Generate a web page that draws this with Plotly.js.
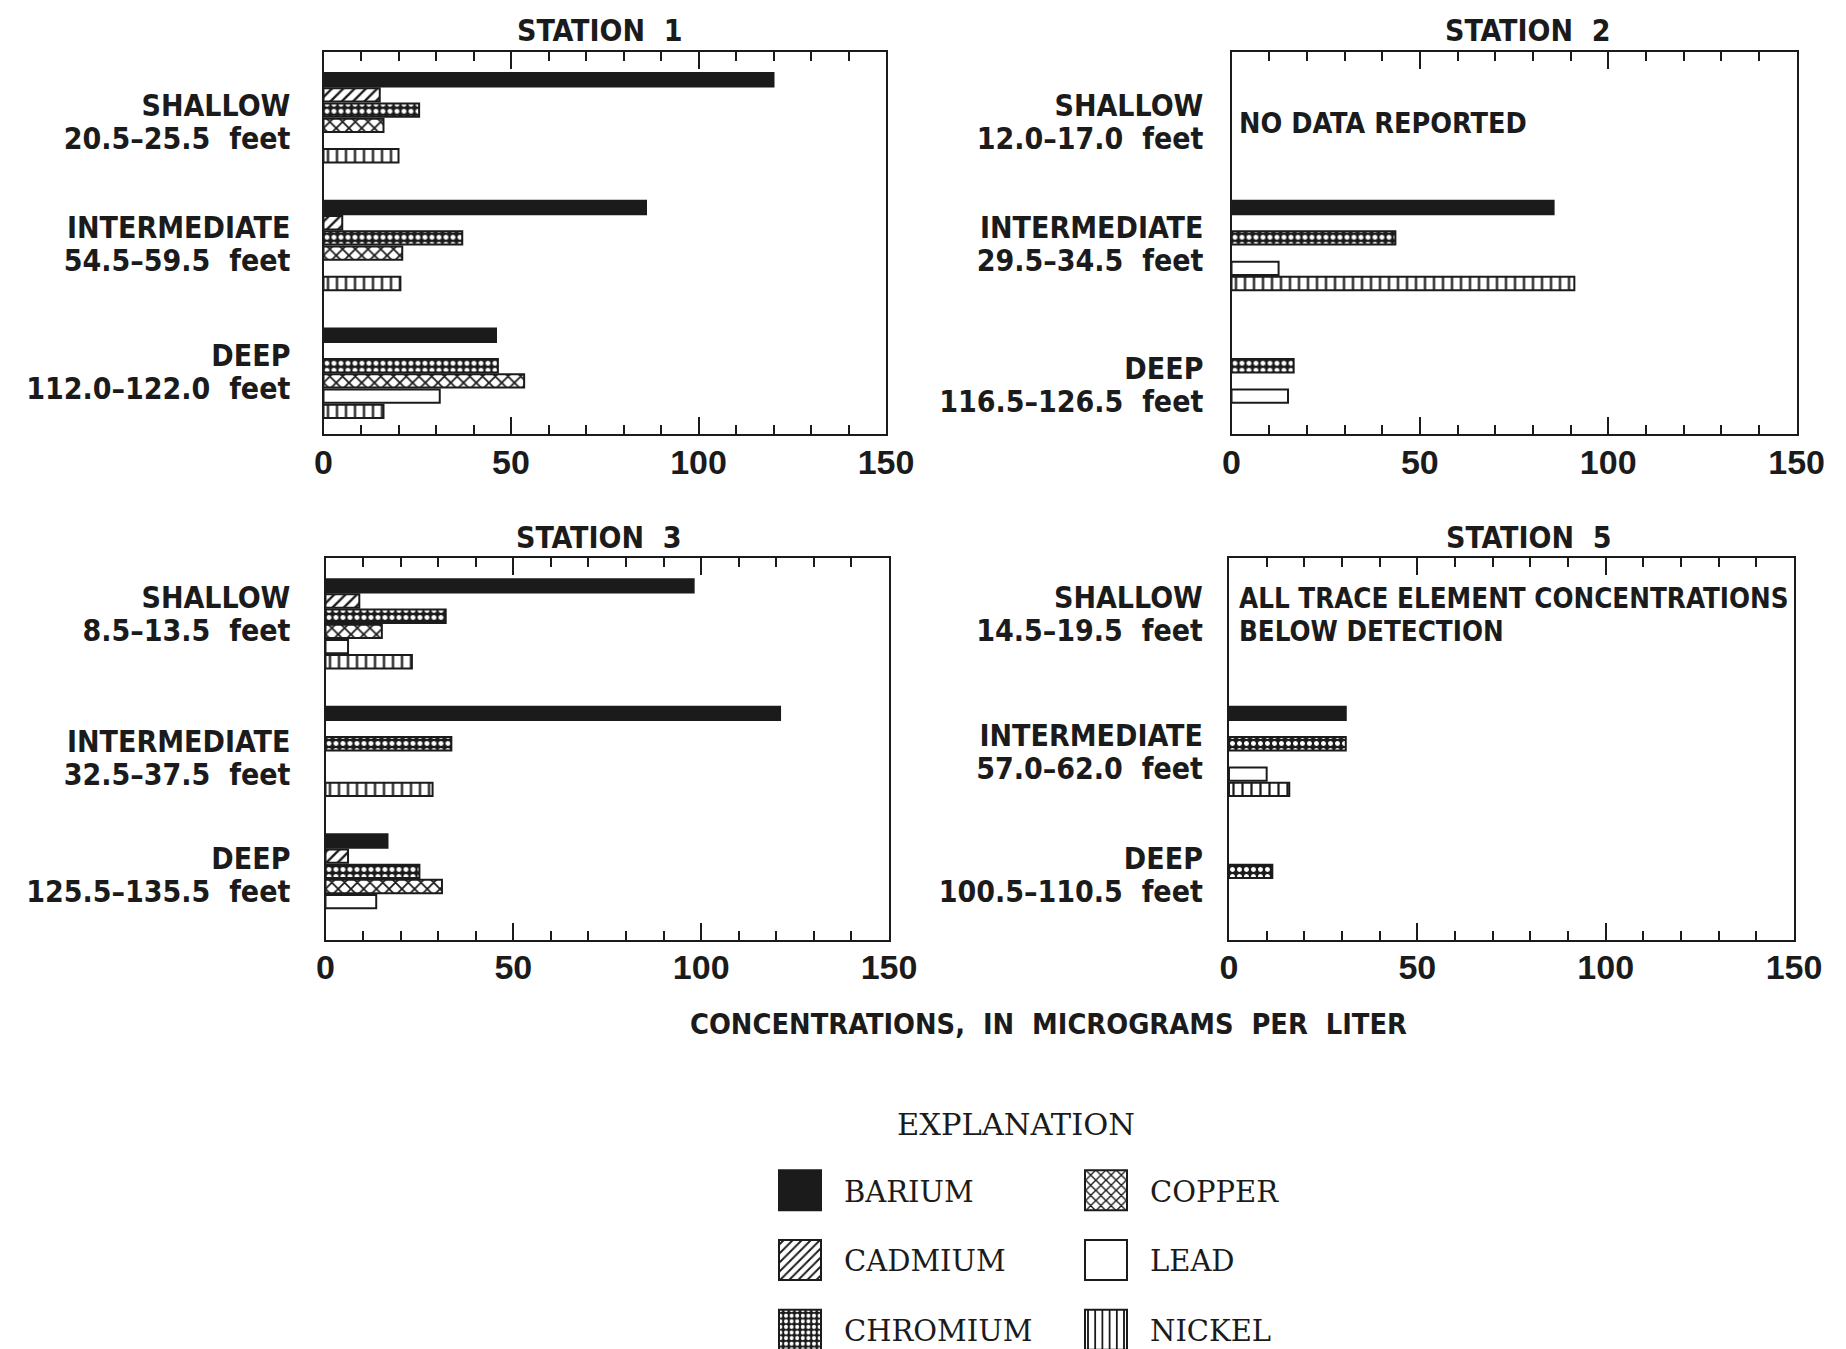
<!DOCTYPE html>
<html>
<head>
<meta charset="utf-8">
<script src="https://cdn.plot.ly/plotly-3.0.1.min.js"></script>
<style>
  html, body { margin: 0; padding: 0; background: #ffffff; }
  #chart { width: 1846px; height: 1349px; }
</style>
</head>
<body>
<div id="chart"></div>
<script>
// ---------------- DATA ----------------
const elements = ['BARIUM', 'CADMIUM', 'CHROMIUM', 'COPPER', 'LEAD', 'NICKEL'];
const depths = ['SHALLOW', 'INTERMEDIATE', 'DEEP'];
const stationNames = ['STATION 1', 'STATION 2', 'STATION 3', 'STATION 5'];

const ranges1 = ['20.5–25.5 feet', '54.5–59.5 feet', '112.0–122.0 feet'];
const ranges2 = ['12.0–17.0 feet', '29.5–34.5 feet', '116.5–126.5 feet'];
const ranges3 = ['8.5–13.5 feet', '32.5–37.5 feet', '125.5–135.5 feet'];
const ranges5 = ['14.5–19.5 feet', '57.0–62.0 feet', '100.5–110.5 feet'];

// values per element (rows, in order of `elements`) for [shallow, intermediate, deep]
const station1Values = [
  [120, 86, 46],      // barium
  [15, 5, null],      // cadmium
  [25.5, 37, 46.5],   // chromium
  [16, 21, 53.5],     // copper
  [null, null, 31],   // lead
  [20, 20.5, 16]      // nickel
];
const station2Values = [
  [null, 85.5, null],
  [null, null, null],
  [null, 43.5, 16.5],
  [null, null, null],
  [null, 12.5, 15],
  [null, 91, null]
];
const station3Values = [
  [98, 121, 16.5],
  [9, null, 6],
  [32, 33.5, 25],
  [15, null, 31],
  [6, null, 13.5],
  [23, 28.5, null]
];
const station5Values = [
  [null, 31, null],
  [null, null, null],
  [null, 31, 11.5],
  [null, null, null],
  [null, 10, null],
  [null, 16, null]
];

const noteStation2 = 'NO DATA REPORTED';
const noteStation5 = ['ALL TRACE ELEMENT CONCENTRATIONS', 'BELOW DETECTION'];
const xTitle = 'CONCENTRATIONS, IN MICROGRAMS PER LITER';
const legendTitle = 'EXPLANATION';
const xTickVals = [0, 50, 100, 150];

// ---------------- STYLE ----------------
const INK = '#1b1b1b';
const SANS = "'Liberation Sans Narrow', 'DejaVu Sans Condensed', 'Liberation Sans', sans-serif";
const NUMF = "'Liberation Sans', 'DejaVu Sans', sans-serif";
const SERIF = "'DejaVu Serif', 'Liberation Serif', serif";
const W = 1846, H = 1349;
const sp = s => s.replace(/ /g, '\u00a0 ');

const markerStyles = [
  { color: INK, line: { color: INK, width: 2 } },
  { color: 'white', line: { color: INK, width: 2 }, pattern: { shape: '/', fgcolor: INK, bgcolor: 'white', size: 8, solidity: 0.3 } },
  { color: 'white', line: { color: INK, width: 2 }, pattern: { shape: '.', fgcolor: 'white', bgcolor: INK, size: 7, solidity: 0.4 } },
  { color: 'white', line: { color: INK, width: 2 }, pattern: { shape: 'x', fgcolor: INK, bgcolor: 'white', size: 9, solidity: 0.35 } },
  { color: 'white', line: { color: INK, width: 2 } },
  { color: 'white', line: { color: INK, width: 2 }, pattern: { shape: '|', fgcolor: INK, bgcolor: 'white', size: 9, solidity: 0.25 } }
];

// label nudges (category units) to place the depth labels like the original drawing
const panels = [
  { values: station1Values, ranges: ranges1, xa: 'x',  ya: 'y',  xpx: [323.5, 886],    ypx: [51.8, 434],  standoff: 26, titleX: 600,  titleY: 31,  labelNudge: [0.046, 0, 0] },
  { values: station2Values, ranges: ranges2, xa: 'x2', ya: 'y2', xpx: [1231.5, 1796.6], ypx: [51.8, 434],  standoff: 21, titleX: 1528, titleY: 31,  labelNudge: [0.046, 0, 0.106] },
  { values: station3Values, ranges: ranges3, xa: 'x3', ya: 'y3', xpx: [325.5, 889],    ypx: [558, 939.5], standoff: 28, titleX: 599,  titleY: 537, labelNudge: [-0.065, 0.065, -0.018] },
  { values: station5Values, ranges: ranges5, xa: 'x4', ya: 'y4', xpx: [1229, 1794],    ypx: [558, 939.5], standoff: 19, titleX: 1529, titleY: 537, labelNudge: [-0.065, 0.018, -0.018] }
];

const data = [];
panels.forEach((p, pi) => {
  elements.forEach((el, ei) => {
    data.push({
      type: 'bar',
      orientation: 'h',
      name: el,
      y: depths,
      x: p.values[ei],
      xaxis: p.xa,
      yaxis: p.ya,
      marker: markerStyles[ei],
      legendgroup: el,
      legend: ei < 3 ? 'legend' : 'legend2',
      showlegend: pi === 0,
      hoverinfo: 'skip'
    });
  });
});

const legendCommon = {
  y: 1 - 1165 / H, xanchor: 'left', yanchor: 'top',
  orientation: 'v', traceorder: 'grouped', tracegroupgap: 29, itemwidth: 78,
  font: { family: SERIF, size: 29, color: INK }, bgcolor: 'rgba(0,0,0,0)', borderwidth: 0
};

const layout = {
  width: W, height: H,
  margin: { l: 0, r: 0, t: 0, b: 0, autoexpand: false },
  paper_bgcolor: 'white', plot_bgcolor: 'white',
  barmode: 'group', bargap: 0.286, bargroupgap: 0.12,
  font: { family: SANS, color: INK },
  annotations: [],
  legend: Object.assign({ x: 756 / W }, legendCommon),
  legend2: Object.assign({ x: 1062 / W }, legendCommon)
};

panels.forEach((p, i) => {
  const n = i === 0 ? '' : String(i + 1);
  layout['xaxis' + n] = {
    domain: [p.xpx[0] / W, p.xpx[1] / W], anchor: p.ya,
    range: [0, 150], tickmode: 'array', tickvals: xTickVals,
    ticks: 'inside', ticklen: 17, tickwidth: 2, tickcolor: INK,
    showline: true, mirror: 'ticks', linecolor: INK, linewidth: 2,
    showgrid: false, zeroline: false, fixedrange: true,
    minor: { tickmode: 'linear', tick0: 0, dtick: 10, ticks: 'inside', ticklen: 9, tickwidth: 2, tickcolor: INK, showgrid: false },
    tickfont: { family: NUMF, size: 34, color: INK, weight: 700 },
    ticklabelstandoff: -3
  };
  layout['yaxis' + n] = {
    domain: [1 - p.ypx[1] / H, 1 - p.ypx[0] / H], anchor: p.xa,
    type: 'category', categoryorder: 'array', categoryarray: depths,
    range: [2.475, -0.516],
    tickmode: 'array', tickvals: depths.map((d, k) => k + p.labelNudge[k]),
    ticktext: depths.map((d, k) => '<span style="font-size:30px">' + d + '</span><br><span style="font-size:30px">' + sp(p.ranges[k]) + '</span>'),
    showline: true, mirror: true, linecolor: INK, linewidth: 2,
    ticks: '', showgrid: false, zeroline: false, fixedrange: true,
    tickfont: { family: SANS, size: 25.4, color: INK, weight: 700 },
    ticklabelstandoff: p.standoff
  };
  // station title
  layout.annotations.push({
    text: sp(stationNames[i]), xref: 'paper', yref: 'paper',
    x: p.titleX / W, y: 1 - p.titleY / H,
    xanchor: 'center', yanchor: 'middle', showarrow: false,
    font: { family: SANS, size: 30, color: INK, weight: 700 }
  });
});

// notes inside panels
layout.annotations.push({
  text: noteStation2, xref: 'paper', yref: 'paper',
  x: 1237 / W, y: 1 - 123.6 / H, xanchor: 'left', yanchor: 'middle', showarrow: false,
  font: { family: SANS, size: 28.5, color: INK, weight: 700 }
});
noteStation5.forEach((t, k) => {
  layout.annotations.push({
    text: t, xref: 'paper', yref: 'paper',
    x: 1237 / W, y: 1 - (598 + 33 * k) / H, xanchor: 'left', yanchor: 'middle', showarrow: false,
    font: { family: SANS, size: 27.5, color: INK, weight: 700 }
  });
});
// shared x title
layout.annotations.push({
  text: sp(xTitle), xref: 'paper', yref: 'paper',
  x: 1048 / W, y: 1 - 1024 / H, xanchor: 'center', yanchor: 'middle', showarrow: false,
  font: { family: SANS, size: 28.7, color: INK, weight: 700 }
});
// legend heading
layout.annotations.push({
  text: legendTitle, xref: 'paper', yref: 'paper',
  x: 1016 / W, y: 1 - 1124 / H, xanchor: 'center', yanchor: 'middle', showarrow: false,
  font: { family: SERIF, size: 30.5, color: INK }
});

Plotly.newPlot('chart', data, layout, { displayModeBar: false, staticPlot: true }).then(gd => {
  // enlarge the legend swatches drawn by Plotly (both legends)
  gd.querySelectorAll('g.legendpoints path').forEach(p => {
    p.setAttribute('d', 'M21,20H-21V-20H21Z');
  });
});
</script>
</body>
</html>
